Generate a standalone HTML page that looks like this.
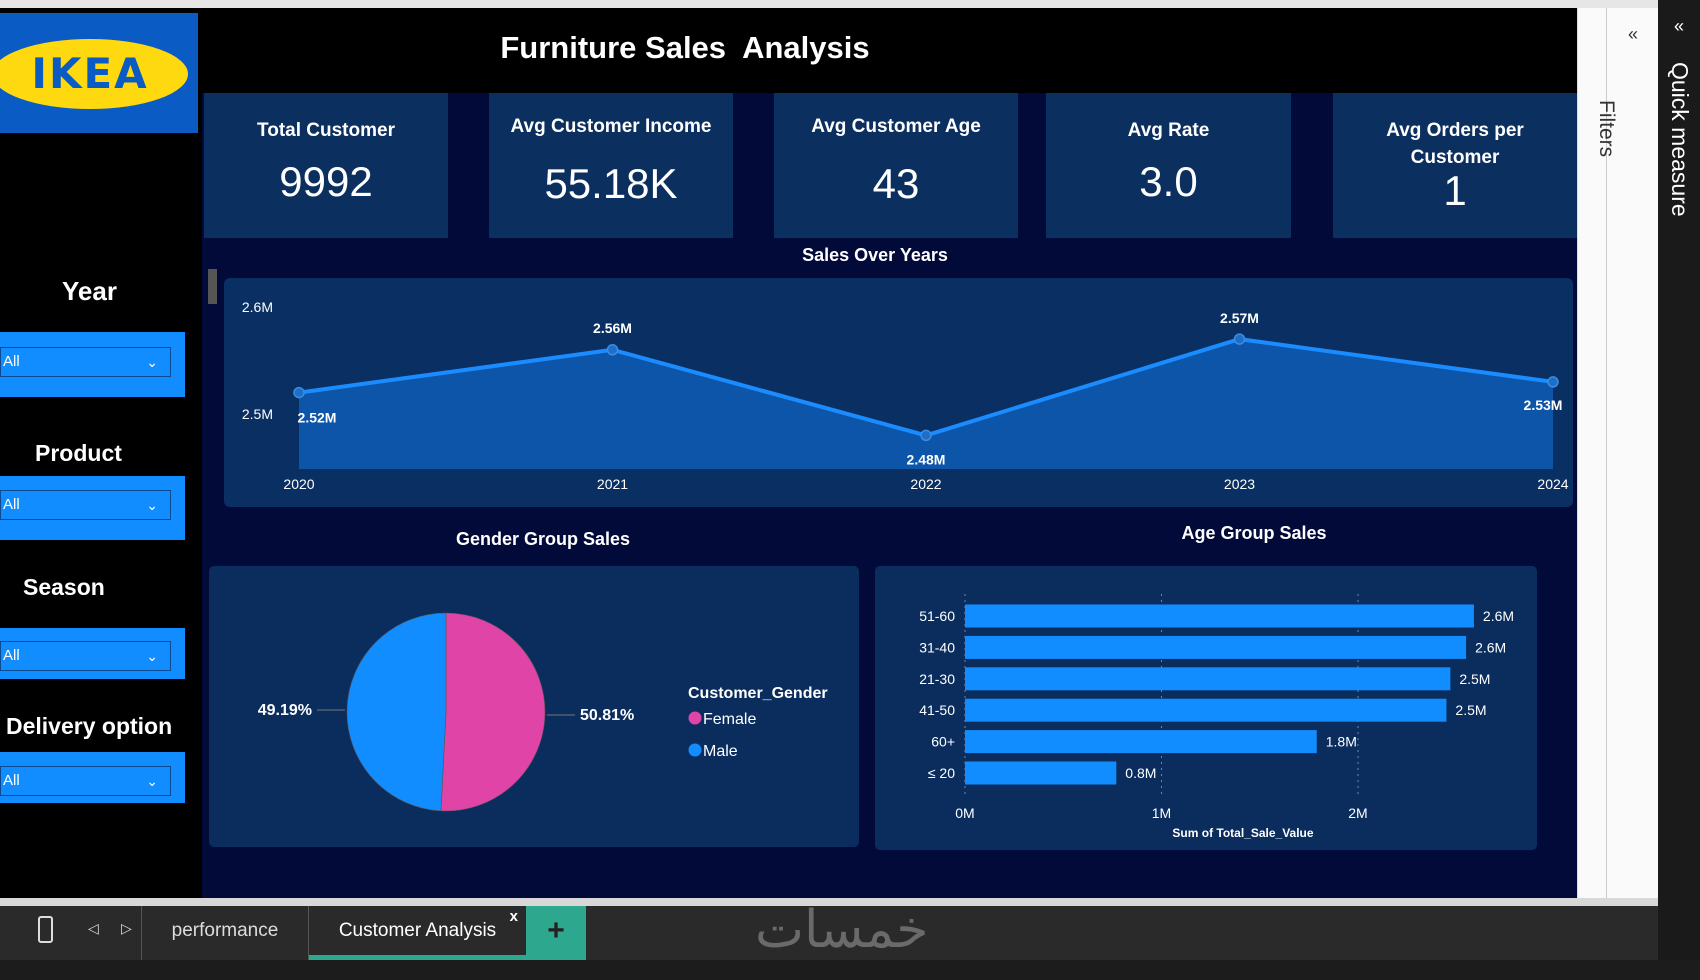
<!DOCTYPE html>
<html><head><meta charset="utf-8">
<style>
*{margin:0;padding:0;box-sizing:border-box}
body{width:1700px;height:980px;overflow:hidden;background:#1c1c1c;font-family:"Liberation Sans",sans-serif;position:relative}
.abs{position:absolute}
.card{position:absolute;top:93px;height:145px;background:#0b2f5e;color:#fff;text-align:center}
.card .t{font-weight:bold;font-size:19px;margin-top:24px;line-height:27px}
.card .v{font-size:42px;margin-top:14px}
.slbl{position:absolute;color:#fff;font-weight:bold;font-size:23px}
.sblk{position:absolute;left:0;width:185px;background:#118dff}
.sdd{position:absolute;left:0;width:171px;height:30px;border:1px solid #0a4a90;color:#fff;font-size:15px;line-height:28px;padding-left:2px}
.sdd span{position:absolute;right:12px;top:0;font-size:14px}
svg text{font-family:"Liberation Sans",sans-serif}
</style></head><body>
<div class="abs" style="left:0;top:0;width:1700px;height:8px;background:#e6e6e6"></div>
<div class="abs" style="left:0;top:8px;width:1577px;height:890px;background:#000"></div>
<div class="abs" style="left:202px;top:93px;width:1375px;height:805px;background:#020a3a"></div>
<div class="abs" style="left:0;top:13px;width:198px;height:120px;background:#0a5bc4;overflow:hidden">
<div style="position:absolute;left:-8px;top:26px;width:196px;height:70px;border-radius:50%;background:#ffd90f;color:#0a5bc4;font-weight:900;font-size:42px;text-align:center;line-height:70px;letter-spacing:2px;font-family:'DejaVu Sans',sans-serif">IKEA</div></div>
<div class="abs" style="left:400px;top:30px;width:570px;text-align:center;color:#fff;font-weight:bold;font-size:31px">Furniture Sales&nbsp; Analysis</div>

<div class="card" style="left:204px;width:244px"><div class="t">Total Customer</div><div class="v">9992</div></div>
<div class="card" style="left:489px;width:244px"><div class="t" style="margin-top:20px">Avg Customer Income</div><div class="v" style="margin-top:20px">55.18K</div></div>
<div class="card" style="left:774px;width:244px"><div class="t" style="margin-top:20px">Avg Customer Age</div><div class="v" style="margin-top:20px">43</div></div>
<div class="card" style="left:1046px;width:245px"><div class="t">Avg Rate</div><div class="v">3.0</div></div>
<div class="card" style="left:1333px;width:244px"><div class="t">Avg Orders per<br>Customer</div><div class="v" style="margin-top:-4px">1</div></div>

<!-- slicers -->
<div class="slbl" style="left:62px;top:276px;font-size:26px">Year</div>
<div class="sblk" style="top:332px;height:65px"></div>
<div class="sdd" style="top:347px">All<span>&#8964;</span></div>
<div class="slbl" style="left:35px;top:440px">Product</div>
<div class="sblk" style="top:476px;height:64px"></div>
<div class="sdd" style="top:490px">All<span>&#8964;</span></div>
<div class="slbl" style="left:23px;top:574px">Season</div>
<div class="sblk" style="top:628px;height:51px"></div>
<div class="sdd" style="top:641px">All<span>&#8964;</span></div>
<div class="slbl" style="left:6px;top:713px">Delivery option</div>
<div class="sblk" style="top:752px;height:51px"></div>
<div class="sdd" style="top:766px">All<span>&#8964;</span></div>
<div class="abs" style="left:208px;top:269px;width:9px;height:35px;background:#555"></div>

<!-- line chart -->
<div class="abs" style="left:700px;top:245px;width:350px;text-align:center;color:#fff;font-weight:bold;font-size:18px">Sales Over Years</div>
<svg class="abs" style="left:0;top:0" width="1700" height="980">
<rect x="224" y="278" width="1349" height="229" rx="6" fill="#0a2f63"/>
<g id="lineG"></g>
<rect x="209" y="566" width="650" height="281" rx="5" fill="#0a2d5e"/>
<rect x="875" y="566" width="662" height="284" rx="5" fill="#0a2d5e"/>
<g id="pieG"></g>
<g id="barG"></g>
</svg>
<div class="abs" style="left:393px;top:529px;width:300px;text-align:center;color:#fff;font-weight:bold;font-size:18px">Gender Group Sales</div>
<div class="abs" style="left:1104px;top:523px;width:300px;text-align:center;color:#fff;font-weight:bold;font-size:18px">Age Group Sales</div>

<!-- right panes -->
<div class="abs" style="left:1577px;top:8px;width:81px;height:898px;background:#fafafa;border-left:1px solid #ddd">
<div style="position:absolute;left:28px;top:0;width:1px;height:898px;background:#ccc"></div>
<div style="position:absolute;left:50px;top:16px;font-size:18px;color:#333">&#171;</div>
<div style="position:absolute;left:40px;top:92px;transform:rotate(90deg);transform-origin:0 0;font-size:21px;color:#333;white-space:nowrap">Filters</div>
</div>
<div class="abs" style="left:1658px;top:0;width:42px;height:960px;background:#1a1a1a">
<div style="position:absolute;left:16px;top:16px;font-size:18px;color:#fff">&#171;</div>
<div style="position:absolute;left:35px;top:62px;transform:rotate(90deg);transform-origin:0 0;font-size:23px;color:#fff;white-space:nowrap">Quick measure</div>
</div>

<!-- bottom bar -->
<div class="abs" style="left:0;top:898px;width:1658px;height:8px;background:#d8d8d8"></div>
<div class="abs" style="left:0;top:906px;width:1658px;height:54px;background:#2a2a2a;color:#ddd">
<div style="position:absolute;left:38px;top:10px;width:15px;height:27px;border:2px solid #ddd;border-radius:3px"></div>
<div style="position:absolute;left:88px;top:14px;font-size:14px">&#9665;</div>
<div style="position:absolute;left:121px;top:14px;font-size:14px">&#9655;</div>
<div style="position:absolute;left:141px;top:0;width:1px;height:54px;background:#555"></div>
<div style="position:absolute;left:142px;top:14px;width:166px;text-align:center;font-size:19px">performance</div>
<div style="position:absolute;left:308px;top:0;width:1px;height:54px;background:#555"></div>
<div style="position:absolute;left:309px;top:0;width:217px;height:54px;border-bottom:5px solid #2ea78f"><div style="margin-top:14px;text-align:center;font-size:19px;color:#fff">Customer Analysis</div><div style="position:absolute;right:8px;top:2px;font-size:15px;color:#fff;font-weight:bold">x</div></div>
<div style="position:absolute;left:526px;top:0;width:60px;height:54px;background:#2ea78f;color:#222;font-size:30px;font-weight:bold;text-align:center;line-height:50px">+</div>
<div style="position:absolute;left:755px;top:-6px;font-size:52px;color:#6a6a6a;font-family:'DejaVu Sans',sans-serif">خمسات</div>
</div>

<script>
const NS='http://www.w3.org/2000/svg';
function mk(t,a,p){const e=document.createElementNS(NS,t);for(const k in a)e.setAttribute(k,a[k]);p.appendChild(e);return e;}
function tx(s,a,p){const e=mk('text',a,p);e.textContent=s;return e;}

// ---- line chart data ----
const years=['2020','2021','2022','2023','2024'];
const sales=[2.52,2.56,2.48,2.57,2.53];
const salesLabels=['2.52M','2.56M','2.48M','2.57M','2.53M'];
const yTicks=[2.5,2.6];
const yTickLabels=['2.5M','2.6M'];
(function(){
 const g=document.getElementById('lineG');
 const x=i=>299+i*(1553-299)/(years.length-1);
 const y=v=>414-(v-2.5)*1070;
 const base=469;
 yTicks.forEach((t,i)=>{const e=tx(yTickLabels[i],{x:273,y:y(t)+5,fill:'#fff','font-size':14,'text-anchor':'end'},g);
 
 });
 let d='M'+x(0)+','+base;sales.forEach((v,i)=>d+=' L'+x(i)+','+y(v));d+=' L'+x(sales.length-1)+','+base+' Z';
 const area=mk('path',{d:d,fill:'#0d55a8'},g);
 
 
 const line=mk('polyline',{points:sales.map((v,i)=>x(i)+','+y(v)).join(' '),fill:'none',stroke:'#1a8cff','stroke-width':4},g);
 
 
 const offs=[[18,30],[0,-17],[0,29],[0,-16],[-10,28]];
 sales.forEach((v,i)=>{
  const c=mk('circle',{cx:x(i),cy:y(v),r:5,fill:'#1f6fc9',stroke:'#3a8de0','stroke-width':1.5},g);
  
  
  const l=tx(salesLabels[i],{x:x(i)+offs[i][0],y:y(v)+offs[i][1],fill:'#fff','font-size':14,'font-weight':'bold','text-anchor':'middle'},g);
  
  
  const t=tx(years[i],{x:x(i),y:489,fill:'#fff','font-size':14,'text-anchor':'middle'},g);
  
  
 });
})();

// ---- pie data ----
const genders=['Female','Male'];
const genderShares=[50.81,49.19];
const genderColors=['#e044a7','#118dff'];
(function(){
 const g=document.getElementById('pieG');
 const cx=446,cy=712,r=99;
 const tot=genderShares.reduce((a,b)=>a+b,0);
 let a0=-Math.PI/2;
 genderShares.forEach((v,i)=>{
  const a1=a0+v/tot*2*Math.PI;
  const large=(a1-a0)>Math.PI?1:0;
  const d=`M${cx},${cy} L${cx+r*Math.cos(a0)},${cy+r*Math.sin(a0)} A${r},${r} 0 ${large} 1 ${cx+r*Math.cos(a1)},${cy+r*Math.sin(a1)} Z`;
  const p=mk('path',{d:d,fill:genderColors[i],stroke:'#555','stroke-width':0.6},g);
  
  
  const am=(a0+a1)/2;const right=Math.cos(am)>0;
  const lx=right?cx+r+35:cx-r-35;
  const l=tx(genderShares[i].toFixed(2)+'%',{x:lx,y:cy+(right?8:3),fill:'#fff','font-size':16,'font-weight':'bold','text-anchor':right?'start':'end'},g);
  
  
  mk('line',{x1:right?cx+r+2:cx-r-2,y1:cy+(right?3:-2),x2:right?cx+r+30:cx-r-30,y2:cy+(right?3:-2),stroke:'#777','stroke-width':1},g);
  a0=a1;
 });
 const lt=tx('Customer_Gender',{x:688,y:698,fill:'#fff','font-size':16,'font-weight':'bold'},g);
 
 
 genders.forEach((n,i)=>{
  const yy=718+i*32;
  const c=mk('circle',{cx:695,cy:yy,r:6.5,fill:genderColors[i]},g);
  
  
  const t=tx(n,{x:703,y:yy+6,fill:'#fff','font-size':16},g);
  
  
 });
})();

// ---- bar data ----
const ageGroups=['51-60','31-40','21-30','41-50','60+','\u2264 20'];
const ageSales=[2.59,2.55,2.47,2.45,1.79,0.77];
const ageLabels=['2.6M','2.6M','2.5M','2.5M','1.8M','0.8M'];
const xTicks=[0,1,2];
const xTickLabels=['0M','1M','2M'];
(function(){
 const g=document.getElementById('barG');
 const x=v=>965+v*196.5;
 const rowY=i=>616+i*31.4;
 xTicks.forEach((t,i)=>{
  mk('line',{x1:x(t),y1:594,x2:x(t),y2:795,stroke:'#6f86a8','stroke-width':1,'stroke-dasharray':'2,4'},g);
  const e=tx(xTickLabels[i],{x:x(t),y:818,fill:'#fff','font-size':14,'text-anchor':'middle'},g);
  
  
 });
 ageGroups.forEach((a,i)=>{
  const yc=rowY(i);
  const b=mk('rect',{x:x(0),y:yc-11.5,width:x(ageSales[i])-x(0),height:23,fill:'#118dff'},g);
  
  
  const l=tx(a,{x:955,y:yc+5,fill:'#fff','font-size':14,'text-anchor':'end'},g);
  
  
  const v=tx(ageLabels[i],{x:x(ageSales[i])+9,y:yc+5,fill:'#fff','font-size':14},g);
  
  
 });
 const at=tx('Sum of Total_Sale_Value',{x:1243,y:837,fill:'#fff','font-size':12,'font-weight':'bold','text-anchor':'middle'},g);
 
 
})();
</script>
</body></html>
